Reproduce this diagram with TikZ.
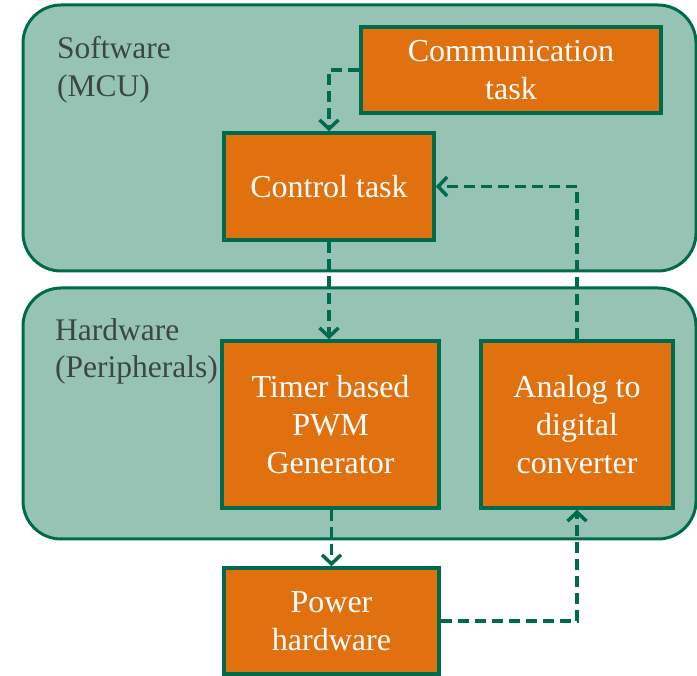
\documentclass[tikz,border=0pt]{standalone}
\usepackage{fontspec}
\setmainfont{Liberation Serif}
\usetikzlibrary{arrows.meta}
\definecolor{cfill}{HTML}{97C3B5}
\definecolor{dgreen}{HTML}{006B4C}
\definecolor{orng}{HTML}{E1700F}
\definecolor{lbl}{HTML}{3B4743}
\tikzset{
  container/.style={draw=dgreen, fill=cfill, line width=3pt, rounded corners=38pt},
  blk/.style={draw=dgreen, fill=orng, line width=3.5pt, text=white, align=center,
    font=\fontsize{32}{38}\selectfont, inner sep=0pt},
  grouplabel/.style={text=lbl, align=left, anchor=base west, inner sep=0pt,
    font=\fontsize{31.5}{38}\selectfont},
  conn/.style={draw=dgreen, line width=3.8pt, dash pattern=on 11pt off 6pt,
    -{Straight Barb[length=9pt,width=19pt,line width=3.5pt]}},
}
\begin{document}
\begin{tikzpicture}[x=1pt,y=-1pt]
\useasboundingbox (0,0) rectangle (697,676);
% containers
\draw[container] (23,5) rectangle (696,271);
\draw[container] (23,288) rectangle (696,539);
% group labels
\node[grouplabel] (swl1) at (57,59) {Software};
\node[grouplabel] (swl2) at (57,97) {(MCU)};
\node[grouplabel] (hwl1) at (55,341) {Hardware};
\node[grouplabel] (hwl2) at (55,378) {(Peripherals)};
% blocks
\node[blk, minimum width=300pt, minimum height=86pt] (comm) at (511,70) {Communication\\task};
\node[blk, minimum width=210pt, minimum height=107pt] (ctrl) at (329,186.5) {\raisebox{-2pt}{Control task}};
\node[blk, minimum width=217pt, minimum height=167pt] (pwm) at (330.5,424.5) {Timer based\\PWM\\Generator};
\node[blk, minimum width=192pt, minimum height=167pt] (adc) at (577,424.5) {Analog to\\digital\\converter};
\node[blk, minimum width=215pt, minimum height=106pt] (pwr) at (331.5,621) {Power\\hardware};
% connectors
\draw[conn] (comm.west) -| (ctrl.north);
\draw[conn] (ctrl.south) -- (ctrl.south |- pwm.north);
\draw[conn] (adc.north) |- (ctrl.east);
\draw[conn] (pwm.south -| pwr.north) -- (pwr.north);
\draw[conn] (pwr.east) -| (adc.south);
\end{tikzpicture}
\end{document}
